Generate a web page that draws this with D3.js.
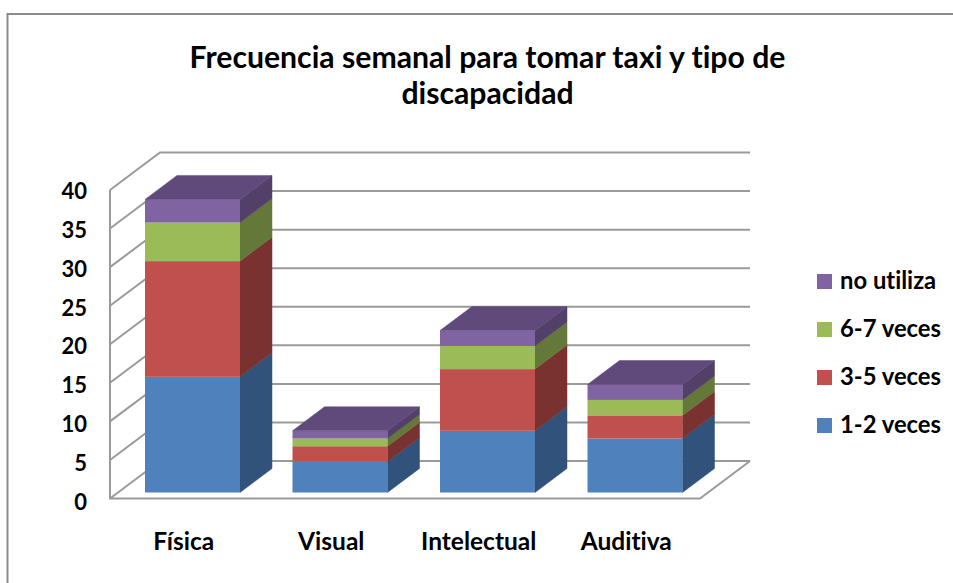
<!DOCTYPE html>
<html><head><meta charset="utf-8">
<script src="https://cdn.jsdelivr.net/npm/d3@7"></script>
<style>html,body{margin:0;padding:0;background:#fff;overflow:hidden}text{font-family:Lato,"Open Sans",sans-serif;font-weight:700;fill:#000;font-variant-ligatures:none}</style>
</head><body><svg id="c" width="953" height="583"></svg>
<script>
const titleLines = ["Frecuencia semanal para tomar taxi y tipo de", "discapacidad"];
const categories = ["Física", "Visual", "Intelectual", "Auditiva"];
const seriesNames = ["1-2 veces", "3-5 veces", "6-7 veces", "no utiliza"];
const v12 = [15, 4, 8, 7];
const v35 = [15, 2, 8, 3];
const v67 = [5, 1, 3, 2];
const vNo = [3, 1, 2, 2];
const seriesValues = [v12, v35, v67, vNo];
const front = ["#4F81BD", "#C0504D", "#9BBB59", "#8064A2"];
const side = ["#30527B", "#7A3230", "#64783A", "#524069"];
const topColor = "#604A7B";
const yTicks = [0, 5, 10, 15, 20, 25, 30, 35, 40];

const svg = d3.select("#c");
const gridCol = "#9a9a9a";

// chart frame
svg.append("path").attr("d", "M7.5,583V14H953").attr("fill", "none").attr("stroke", "#8c8c8c").attr("stroke-width", 2);

// title
svg.selectAll(".title").data(titleLines).join("text").attr("class", "title")
  .attr("x", 487.5).attr("y", (d, i) => 68 + i * 36).attr("text-anchor", "middle")
  .attr("font-size", 30.2).text(d => d);

// scales
const y = d3.scaleLinear().domain([0, 40]).range([498.5, 190]);
const labelY = d3.scaleLinear().domain([0, 40]).range([502, 191]);
const x = d3.scaleBand().domain(categories).range([110, 700]).paddingInner(0.356).paddingOuter(0.178);
const wallDx = 50, wallDy = -37.5, barDx = 32, barDy = -24, barShiftX = 8.75, barShiftY = -6;

// grid
const g = svg.append("g").attr("fill", "none").attr("stroke", gridCol).attr("stroke-width", 2);
g.selectAll("path.grid").data(yTicks).join("path").attr("class", "grid")
  .attr("d", t => `M110,${y(t)}L${110 + wallDx},${y(t) + wallDy}H750`);
g.append("path").attr("d", `M110,${y(40)}V${y(0)}H700L750,${y(0) + wallDy}`);

// y tick labels
svg.selectAll(".yl").data(yTicks).join("text").attr("class", "yl")
  .attr("x", 87).attr("y", labelY).attr("dy", "0.36em").attr("text-anchor", "end")
  .attr("font-size", 22).text(d => d);

// stacked 3D bars
const stack = categories.map((c, i) => {
  let acc = 0;
  return seriesValues.map((s, k) => { const a = acc; acc += s[i]; return { c, k, a, b: acc }; });
});
const by = v => y(v) + barShiftY;
const bars = svg.selectAll(".bar").data(stack).join("g").attr("class", "bar");
bars.each(function (segs) {
  const gb = d3.select(this);
  const x0 = x(segs[0].c) + barShiftX, w = x.bandwidth(), x1 = x0 + w;
  gb.selectAll("path.side").data(segs).join("path").attr("class", "side")
    .attr("fill", d => side[d.k]).attr("stroke", d => side[d.k]).attr("stroke-width", 0.5)
    .attr("d", d => `M${x1},${by(d.a)}L${x1 + barDx},${by(d.a) + barDy}V${by(d.b) + barDy}L${x1},${by(d.b)}Z`);
  gb.selectAll("rect").data(segs).join("rect")
    .attr("x", x0).attr("width", w).attr("y", d => by(d.b)).attr("height", d => by(d.a) - by(d.b))
    .attr("fill", d => front[d.k]);
  const t = by(segs[3].b);
  gb.append("path").attr("fill", topColor).attr("stroke", topColor).attr("stroke-width", 0.5)
    .attr("d", `M${x0},${t}L${x0 + barDx},${t + barDy}H${x1 + barDx}L${x1},${t}Z`);
});

// category labels
svg.selectAll(".xl").data(categories).join("text").attr("class", "xl")
  .attr("x", d => x(d) + x.bandwidth() / 2).attr("y", 550).attr("text-anchor", "middle")
  .attr("font-size", 24.5).text(d => d);

// legend (reverse order, top to bottom)
const legendY = d3.scalePoint().domain([3, 2, 1, 0]).range([281.5, 425.5]);
const lg = svg.selectAll(".lg").data([3, 2, 1, 0]).join("g").attr("class", "lg");
lg.append("rect").attr("x", 817).attr("y", k => legendY(k) - 7.5).attr("width", 15).attr("height", 15).attr("fill", k => front[k]);
lg.append("text").attr("x", 840).attr("y", k => legendY(k)).attr("dy", "0.33em").attr("font-size", 23.8).text(k => seriesNames[k]);
</script></body></html>
